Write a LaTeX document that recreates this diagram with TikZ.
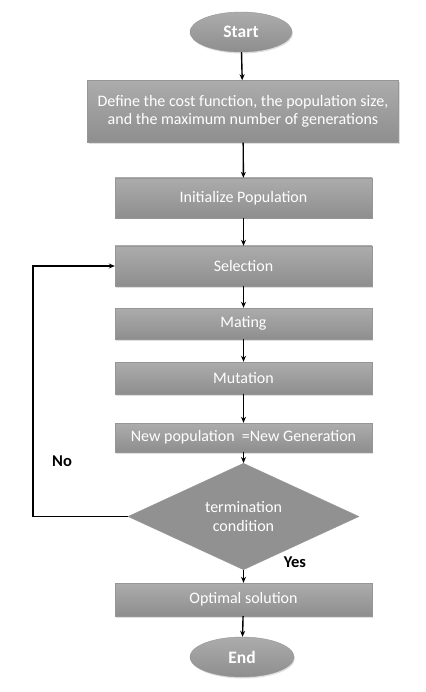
\documentclass[tikz,border=0pt]{standalone}
\usepackage{fontspec}
\setmainfont{Carlito}
\usepackage{tikz}
\usetikzlibrary{shapes.geometric, arrows.meta, positioning, shadows}
\definecolor{boxtop}{RGB}{172,172,172}
\definecolor{boxbot}{RGB}{142,142,142}
\definecolor{boxedge}{RGB}{150,150,150}
\tikzset{
  stepbox/.style={rectangle, top color=boxtop, bottom color=boxbot, draw=boxedge,
    minimum width=257pt, text=white, font=\fontsize{16}{18.5}\selectfont,
    align=center, line width=0.4pt,
    drop shadow={shadow xshift=1pt, shadow yshift=-1.5pt, opacity=0.25}},
  termnode/.style={ellipse, top color=boxtop, bottom color=boxbot, draw=boxedge,
    text=white, font=\fontsize{17.5}{20}\selectfont\bfseries,
    minimum width=102pt, minimum height=40pt, inner sep=0pt,
    drop shadow={shadow xshift=1pt, shadow yshift=-1.5pt, opacity=0.25}},
  decision/.style={diamond, fill=boxbot!90!boxtop, draw=boxedge, inner sep=0pt,
    minimum width=231pt, minimum height=87pt, text=white, align=center,
    font=\fontsize{16}{18.5}\selectfont},
  arrow/.style={-{Stealth[length=6pt, width=5pt]}, line width=1.4pt, color=black},
  tag/.style={font=\fontsize{16.5}{19}\selectfont\bfseries, text=black}
}
\begin{document}
\begin{tikzpicture}[x=1pt, y=-1pt]
  \useasboundingbox[fill=white] (0,0) rectangle (425,692);
  % Terminals and process steps
  \node[termnode] (start) at (241,32) {Start};
  \node[stepbox, minimum width=311pt, minimum height=62pt] (define) at (243,111.5)
    {Define the cost function, the population size,\\and the maximum number of generations};
  \node[stepbox, minimum height=40pt] (init) at (243.5,198) {Initialize Population};
  \node[stepbox, minimum height=40pt] (sel) at (243.5,266) {Selection};
  \node[stepbox, minimum height=31pt] (mate) at (243.5,323.5) {Mating};
  \node[stepbox, minimum height=32pt] (mut) at (243.5,378) {Mutation};
  \node[stepbox, minimum height=29pt] (newpop) at (243.5,437.5) {New population\ \ =New Generation};
  \node[decision] (term) at (243.5,516.5) {termination\\condition};
  \node[stepbox, minimum height=33pt] (opt) at (243.5,599.5) {Optimal solution};
  \node[termnode, minimum width=104pt] (end) at (242,657) {End};
  % Labels
  \node[tag] (no) at (62,461) {No};
  \node[tag] (yes) at (295,562) {Yes};
  % Main flow
  \draw[arrow] (start) -- (define);
  \draw[arrow] (define) -- (init);
  \draw[arrow] (init) -- (sel);
  \draw[arrow] (sel) -- (mate);
  \draw[arrow] (mate) -- (mut);
  \draw[arrow] (mut) -- (newpop);
  \draw[arrow] (newpop) -- (term);
  \draw[arrow] (term) -- (opt);
  \draw[arrow] (opt) -- (end);
  % Loop back
  \coordinate (loopc) at (33,516.5);
  \draw[arrow] (term.west) -- (loopc) |- (sel.west);
\end{tikzpicture}
\end{document}
